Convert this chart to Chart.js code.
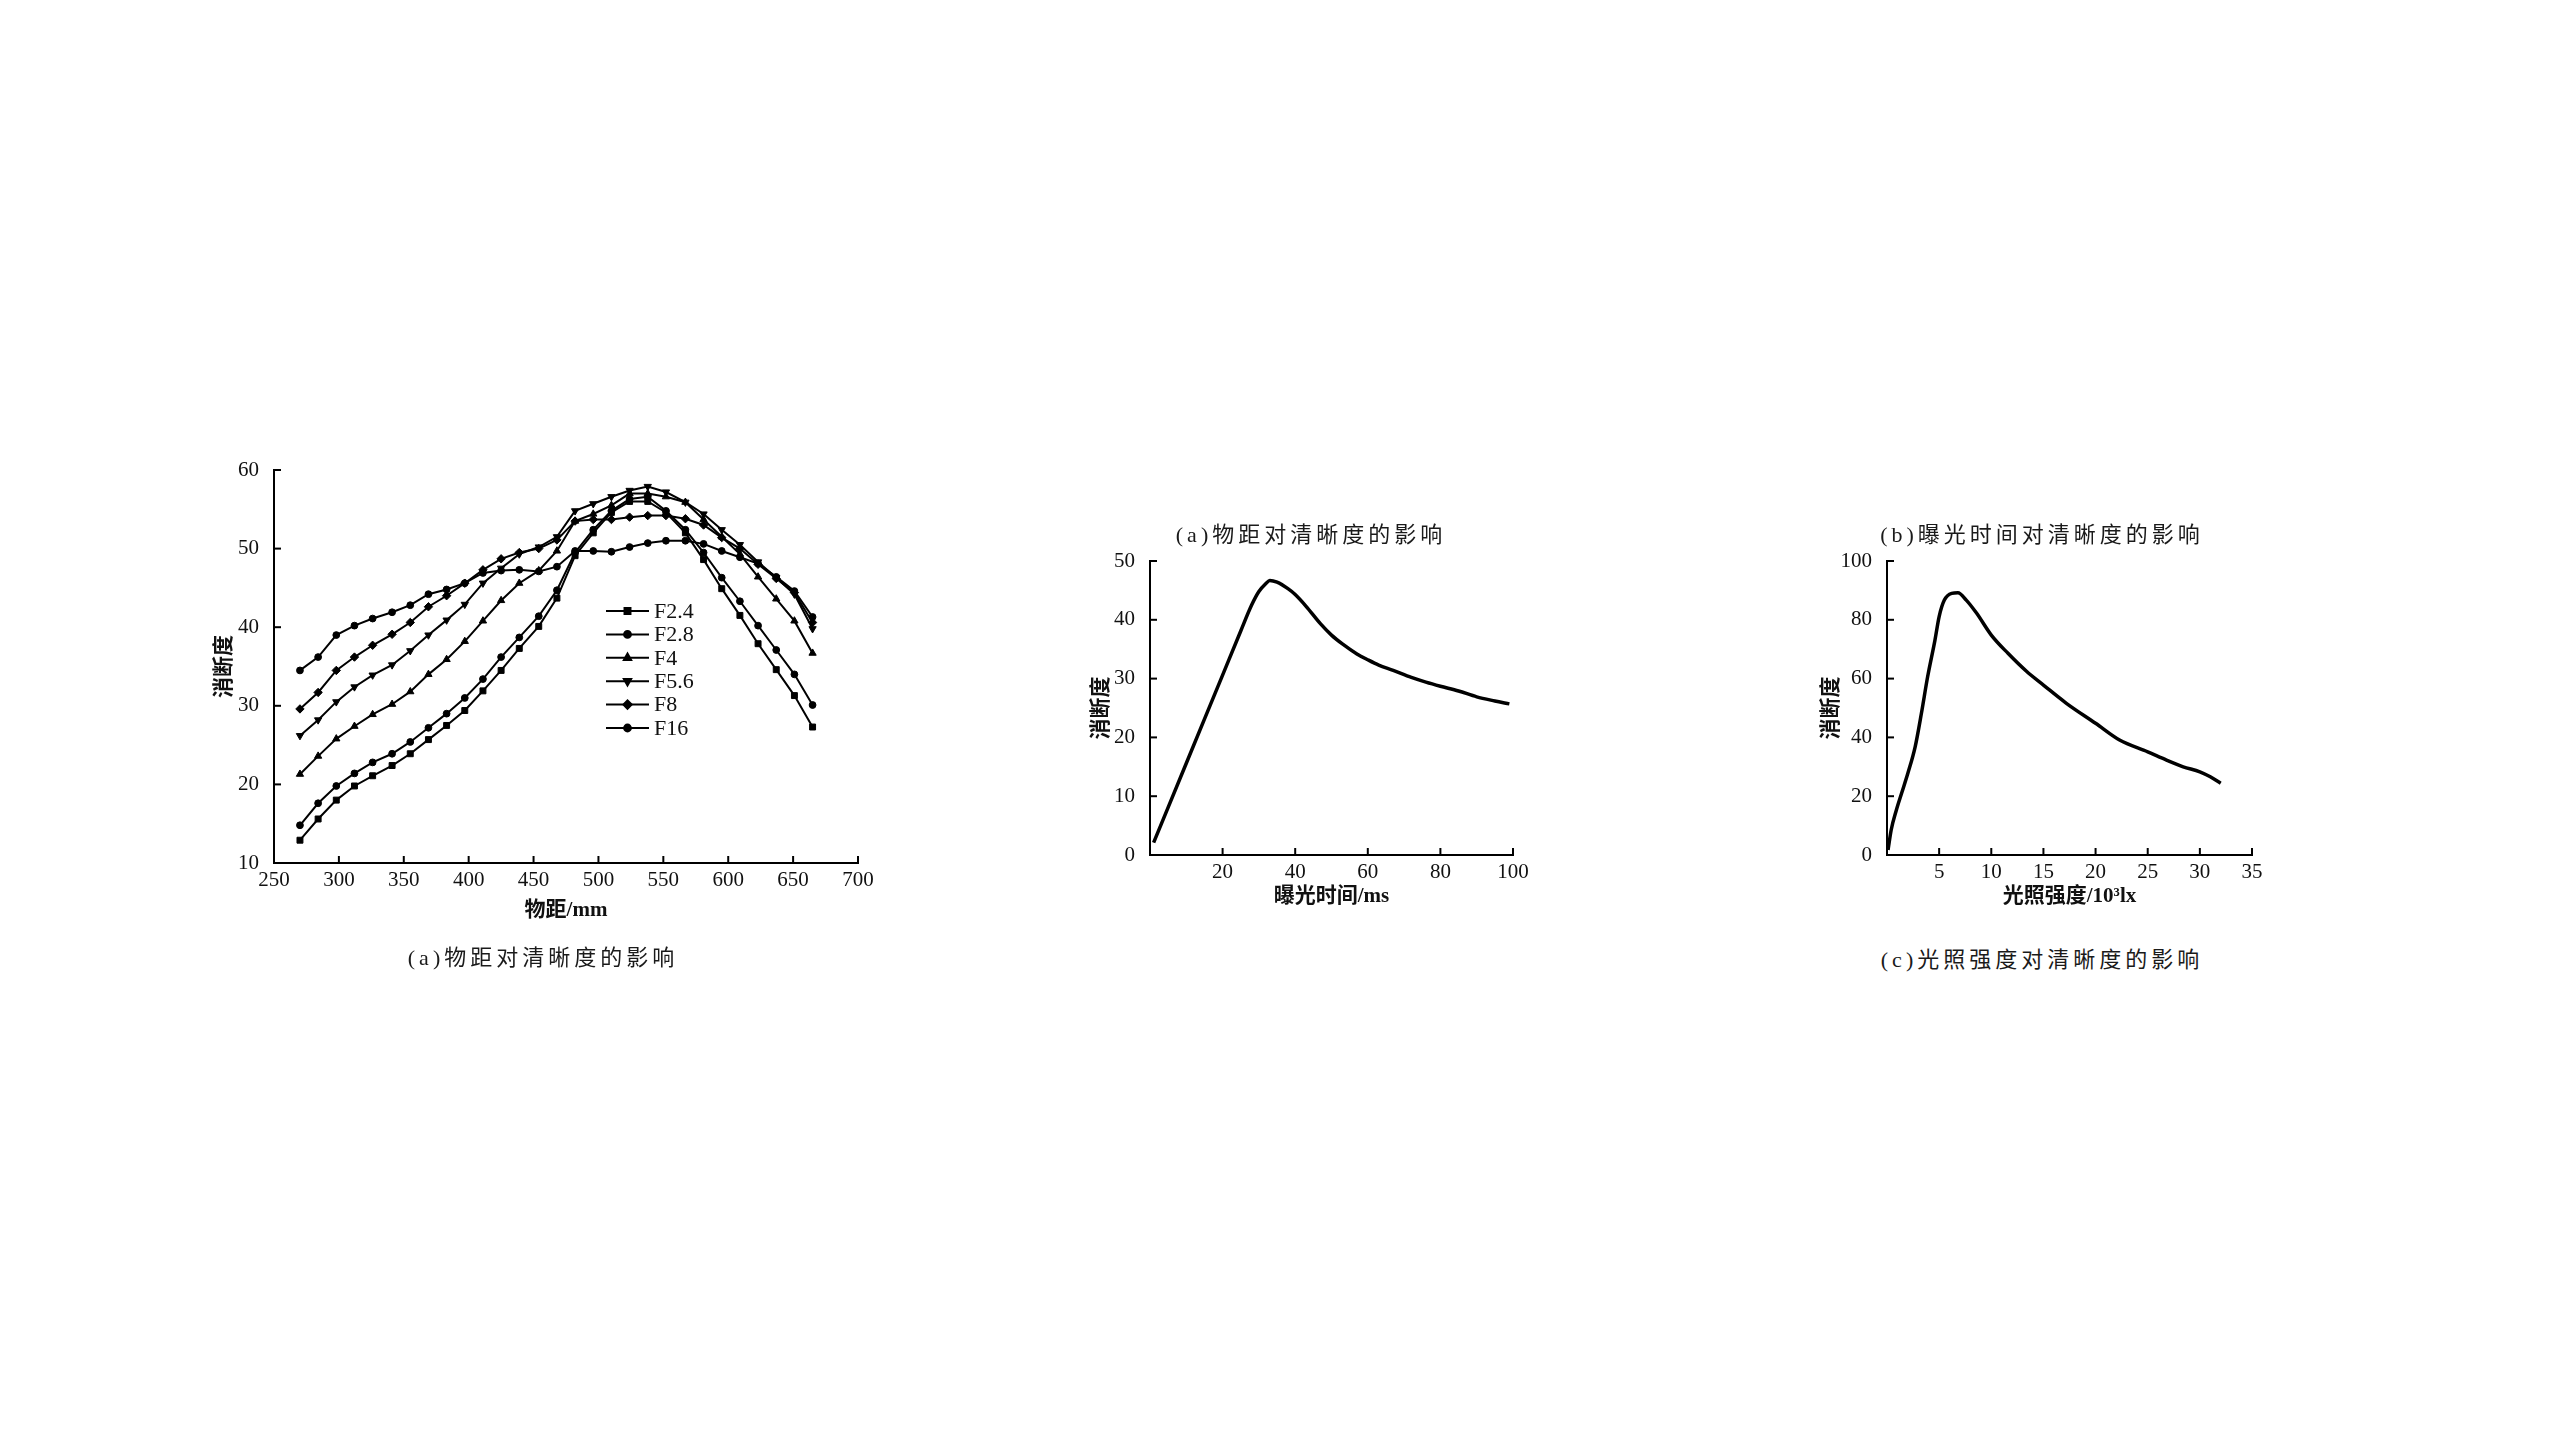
<!DOCTYPE html>
<html>
<head>
<meta charset="utf-8">
<script src="https://cdn.jsdelivr.net/npm/chart.js@4.4.0/dist/chart.umd.min.js"></script>
<style>
  html, body { margin: 0; padding: 0; background: #fff; width: 2560px; height: 1440px; overflow: hidden; }
  canvas { position: absolute; }
  .cap {
    position: absolute; transform: translate(-50%, -50%);
    font-family: "Liberation Serif", "Noto Sans CJK SC", serif;
    font-size: 22px; letter-spacing: 4px; white-space: nowrap; color: #1a1a1a;
  }
</style>
</head>
<body>
<canvas id="c1" width="760" height="500" style="left:150px;top:440px"></canvas>
<canvas id="c2" width="520" height="400" style="left:1050px;top:540px"></canvas>
<canvas id="c3" width="520" height="400" style="left:1790px;top:540px"></canvas>

<div class="cap" style="left:543px;top:955px">(a)物距对清晰度的影响</div>
<div class="cap" style="left:1311px;top:532px">(a)物距对清晰度的影响</div>
<div class="cap" style="left:2042px;top:532px">(b)曝光时间对清晰度的影响</div>
<div class="cap" style="left:2042px;top:957px">(c)光照强度对清晰度的影响</div>

<script>
// 物距 (mm) 与各光圈下的清晰度
const objDist = [270, 284, 298, 312, 326, 341, 355, 369, 383, 397, 411, 425, 439, 454, 468, 482, 496, 510, 524, 538, 552, 567, 581, 595, 609, 623, 637, 651, 665];
const f24 = [12.9, 15.6, 18.0, 19.8, 21.1, 22.4, 23.9, 25.7, 27.5, 29.4, 31.9, 34.5, 37.3, 40.1, 43.7, 49.1, 52.0, 54.6, 56.0, 56.0, 54.6, 52.0, 48.6, 44.9, 41.5, 37.9, 34.6, 31.3, 27.3];
const f28 = [14.8, 17.6, 19.8, 21.4, 22.8, 23.9, 25.4, 27.2, 29.0, 31.0, 33.4, 36.2, 38.7, 41.4, 44.7, 49.5, 52.4, 54.8, 56.3, 56.6, 54.8, 52.4, 49.5, 46.3, 43.3, 40.2, 37.1, 34.0, 30.1];
const f4 = [21.3, 23.6, 25.8, 27.4, 28.9, 30.2, 31.8, 34.0, 35.9, 38.2, 40.8, 43.4, 45.6, 47.2, 49.7, 53.5, 54.4, 55.5, 57.0, 57.0, 56.6, 55.9, 53.7, 51.5, 49.3, 46.4, 43.6, 40.8, 36.7];
const f56 = [26.2, 28.2, 30.5, 32.4, 33.9, 35.2, 37.0, 39.0, 40.9, 42.9, 45.6, 47.5, 49.3, 50.2, 51.5, 54.8, 55.7, 56.6, 57.4, 57.9, 57.2, 55.9, 54.4, 52.4, 50.5, 48.3, 46.3, 44.2, 39.8];
const f8 = [29.6, 31.7, 34.5, 36.2, 37.7, 39.1, 40.6, 42.6, 44.0, 45.6, 47.3, 48.7, 49.5, 50.0, 51.1, 53.5, 53.7, 53.7, 54.0, 54.2, 54.2, 53.8, 53.0, 51.4, 50.0, 48.0, 46.2, 44.4, 40.6];
const f16 = [34.5, 36.2, 39.0, 40.2, 41.1, 41.9, 42.8, 44.2, 44.8, 45.6, 46.9, 47.2, 47.3, 47.1, 47.7, 49.7, 49.7, 49.6, 50.2, 50.7, 51.0, 51.0, 50.6, 49.7, 48.9, 48.1, 46.4, 44.6, 41.3];
const apertures = ['F2.4', 'F2.8', 'F4', 'F5.6', 'F8', 'F16'];
const markers = ['rect', 'circle', 'triangle', 'triangle', 'rectRot', 'circle'];

// 曝光时间 (ms)
const expTime = [1, 5, 10, 15, 20, 25, 28, 30, 32, 33, 35, 38, 40, 43, 47, 50, 53, 57, 60, 63, 67, 72, 76, 80, 85, 90, 95, 99];
const sharpExp = [2.1, 8.1, 15.6, 23.1, 30.6, 38.1, 42.5, 44.8, 46.2, 46.7, 46.4, 45.3, 44.3, 42.3, 39.3, 37.4, 35.9, 34.2, 33.2, 32.3, 31.4, 30.2, 29.4, 28.7, 27.9, 26.9, 26.2, 25.7];

// 光照强度 (10^3 lx)
const lux = [0.1, 0.4, 0.9, 1.4, 2.0, 2.7, 3.3, 3.9, 4.6, 5.0, 5.5, 6.2, 6.8, 7.6, 8.6, 10, 11.6, 13.4, 15, 17.2, 20, 22.3, 25, 26.8, 28.4, 30, 31, 32];
const sharpLux = [1.7, 8.5, 15.3, 21, 27.8, 36.8, 48.2, 60.7, 73.1, 81.1, 86.7, 89.0, 89.2, 86.7, 82.2, 74.8, 68.6, 62.4, 57.8, 51.6, 44.8, 39.1, 35.1, 32.3, 30.0, 28.3, 26.6, 24.4];

const yTitle = '消断度';
const tickFont = { family: '"Liberation Serif", serif', size: 21 };
const titleFont = { family: '"Liberation Serif", "Noto Sans CJK SC", sans-serif', size: 21, weight: 'bold' };

// 刻度线朝内
const inwardTicks = {
  id: 'inwardTicks',
  afterDatasetsDraw(chart) {
    const { ctx, scales: { x, y } } = chart;
    ctx.save();
    ctx.strokeStyle = '#000';
    ctx.lineWidth = 2;
    x.ticks.forEach(t => {
      const p = x.getPixelForValue(t.value);
      ctx.beginPath(); ctx.moveTo(p, y.bottom); ctx.lineTo(p, y.bottom - 7); ctx.stroke();
    });
    y.ticks.forEach(t => {
      const p = y.getPixelForValue(t.value);
      ctx.beginPath(); ctx.moveTo(x.left, p); ctx.lineTo(x.left + 7, p); ctx.stroke();
    });
    ctx.restore();
  }
};

// 图内图例
const legendInside = {
  id: 'legendInside',
  afterDraw(chart) {
    const { ctx, chartArea: a } = chart;
    const x0 = a.left + 332, x1 = x0 + 43;
    ctx.save();
    chart.data.datasets.forEach((ds, i) => {
      const y = a.top + 141 + i * 23.4;
      ctx.strokeStyle = '#000';
      ctx.fillStyle = '#000';
      ctx.lineWidth = 2;
      ctx.beginPath(); ctx.moveTo(x0, y); ctx.lineTo(x1, y); ctx.stroke();
      Chart.helpers.drawPoint(ctx, { pointStyle: ds.pointStyle, radius: ds.pointRadius, rotation: ds.pointRotation || 0, borderWidth: 1 }, (x0 + x1) / 2, y);
      ctx.font = '22px "Liberation Serif", serif';
      ctx.textBaseline = 'middle';
      ctx.fillStyle = '#111';
      ctx.fillText(ds.label, x1 + 5, y + 1);
    });
    ctx.restore();
  }
};

function axes(o) {
  return {
    x: {
      type: 'linear', min: o.xmin, max: o.xmax,
      grid: { display: false },
      border: { color: '#000', width: 2 },
      ticks: {
        stepSize: o.xstep, font: tickFont, color: '#111', padding: -3, maxRotation: 0, autoSkip: false,
        callback: v => (o.hideZero && v === 0) ? '' : v
      },
      title: { display: true, text: o.xtitle, font: titleFont, color: '#111', padding: { top: 0, bottom: o.xpad } },
      afterFit: s => { s.height = o.xh; }
    },
    y: {
      min: o.ymin, max: o.ymax,
      grid: { display: false },
      border: { color: '#000', width: 2 },
      ticks: { stepSize: o.ystep, font: tickFont, color: '#111', padding: 7 },
      title: { display: true, text: yTitle, font: titleFont, color: '#111', padding: { top: o.ypad, bottom: 0 } },
      afterFit: s => { s.width = o.yw; }
    }
  };
}

const series1 = [f24, f28, f4, f56, f8, f16];
new Chart(document.getElementById('c1'), {
  type: 'line',
  data: {
    datasets: apertures.map((name, i) => ({
      label: name,
      data: objDist.map((d, k) => ({ x: d, y: series1[i][k] })),
      borderColor: '#000',
      backgroundColor: '#000',
      borderWidth: 2,
      pointStyle: markers[i],
      pointRotation: name === 'F5.6' ? 180 : 0,
      pointRadius: markers[i] === 'circle' ? 3.4 : 4.2,
      pointBorderWidth: 1,
      tension: 0
    }))
  },
  options: {
    responsive: false, devicePixelRatio: 1, animation: false,
    layout: { padding: { top: 30, right: 52, left: 0, bottom: 0 } },
    plugins: { legend: { display: false }, tooltip: { enabled: false } },
    scales: axes({ xmin: 250, xmax: 700, xstep: 50, xtitle: '物距/mm', xpad: 17, xh: 77,
                   ymin: 10, ymax: 60, ystep: 10, ypad: 62, yw: 124 })
  },
  plugins: [inwardTicks, legendInside]
});

function curveChart(id, xs, ys, o) {
  new Chart(document.getElementById(id), {
    type: 'line',
    data: {
      datasets: [{
        data: xs.map((v, k) => ({ x: v, y: ys[k] })),
        borderColor: '#000', borderWidth: 3.5, pointRadius: 0,
        cubicInterpolationMode: 'monotone'
      }]
    },
    options: {
      responsive: false, devicePixelRatio: 1, animation: false,
      layout: { padding: { top: 21, right: o.rpad, left: 0, bottom: 0 } },
      plugins: { legend: { display: false }, tooltip: { enabled: false } },
      scales: axes(o)
    },
    plugins: [inwardTicks]
  });
}

curveChart('c2', expTime, sharpExp, { xmin: 0, xmax: 100, xstep: 20, xtitle: '曝光时间/ms', xpad: 31, xh: 85,
  ymin: 0, ymax: 50, ystep: 10, ypad: 39, yw: 100, rpad: 57, hideZero: true });
curveChart('c3', lux, sharpLux, { xmin: 0, xmax: 35, xstep: 5, xtitle: '光照强度/10³lx', xpad: 31, xh: 85,
  ymin: 0, ymax: 100, ystep: 20, ypad: 29, yw: 97, rpad: 58, hideZero: true });
</script>
</body>
</html>
